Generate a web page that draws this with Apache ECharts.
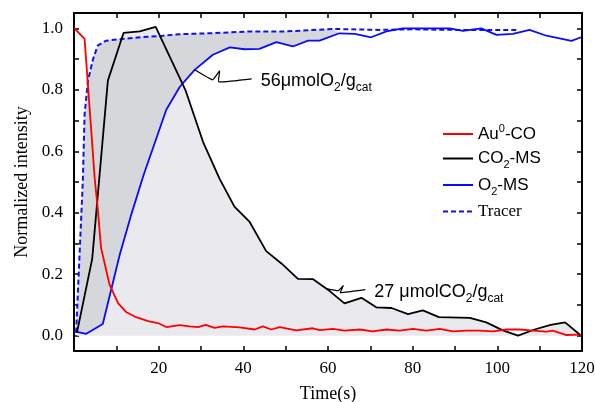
<!DOCTYPE html>
<html>
<head>
<meta charset="utf-8">
<script src="https://cdn.jsdelivr.net/npm/echarts@6/dist/echarts.min.js"></script>
<style>
  html, body { margin: 0; padding: 0; background: #ffffff; }
  #chart { width: 595px; height: 402px; }
</style>
</head>
<body>
<div id="chart"></div>
<script>
// Transient response after the gas switch: each trace has its own sampling times (s).
const auTime  = [0.1, 2.5, 4.9, 5.6, 6.4, 8.4, 10.4, 12.4, 14.7, 17.5, 19.8, 21.8, 25.0, 27.3, 29.3, 31.1, 33.2, 35.2, 39.1, 42.7, 44.6, 46.6, 48.6, 52.5, 56.4, 58.0, 61.2, 63.9, 67.5, 70.6, 73.8, 76.9, 80.1, 83.2, 86.4, 89.5, 92.7, 95.8, 99.0, 102.1, 105.3, 108.4, 111.6, 113.1, 116.3, 119.4];
const auValue = [1.0, 0.966, 0.51, 0.415, 0.285, 0.166, 0.106, 0.076, 0.06, 0.047, 0.041, 0.028, 0.034, 0.03, 0.028, 0.035, 0.025, 0.03, 0.027, 0.02, 0.03, 0.02, 0.028, 0.017, 0.024, 0.018, 0.022, 0.016, 0.02, 0.014, 0.02, 0.016, 0.022, 0.016, 0.022, 0.014, 0.016, 0.016, 0.014, 0.02, 0.02, 0.016, 0.013, 0.016, 0.002, 0.003];

const co2Time  = [0.7, 4.3, 8.0, 11.7, 15.5, 19.3, 26.3, 30.5, 34.4, 37.9, 41.5, 45.4, 49.0, 52.9, 56.4, 60.4, 63.9, 67.9, 71.4, 75.0, 78.9, 82.4, 86.2, 93.5, 97.4, 101.3, 104.9, 108.8, 112.6, 116.0, 119.6];
const co2Value = [0.01, 0.25, 0.83, 0.985, 0.99, 1.005, 0.80, 0.63, 0.51, 0.42, 0.37, 0.275, 0.235, 0.185, 0.184, 0.145, 0.105, 0.123, 0.092, 0.09, 0.07, 0.082, 0.06, 0.058, 0.043, 0.017, 0.0, 0.02, 0.035, 0.043, 0.002];

const o2Time  = [0.1, 2.9, 6.8, 10.8, 13.5, 16.5, 21.8, 25.0, 28.5, 32.8, 36.8, 40.3, 43.8, 47.8, 51.7, 55.3, 58.0, 62.7, 66.3, 70.2, 73.8, 77.7, 88.7, 91.9, 96.2, 99.8, 103.7, 107.6, 111.6, 117.5, 119.8];
const o2Value = [0.014, 0.006, 0.038, 0.263, 0.393, 0.525, 0.735, 0.81, 0.865, 0.914, 0.938, 0.932, 0.933, 0.955, 0.941, 0.96, 0.96, 0.984, 0.982, 0.971, 0.99, 1.0, 1.0, 0.992, 1.0, 0.979, 0.982, 0.995, 0.976, 0.959, 0.971];

const tracerTime  = [0.5, 2.1, 2.5, 3.3, 4.5, 5.6, 7.6, 11.6, 16.3, 21.0, 25.0, 32.0, 41.5, 50.0, 61.2, 72.0, 80.0, 90.0, 104.5];
const tracerValue = [0.01, 0.51, 0.72, 0.83, 0.9, 0.944, 0.96, 0.966, 0.972, 0.976, 0.981, 0.984, 0.99, 0.99, 0.998, 0.995, 0.997, 0.995, 0.995];

// Axis ticks and labels
const xTickValues  = [0, 10, 20, 30, 40, 50, 60, 70, 80, 90, 100, 110, 120];
const xLabelValues = [20, 40, 60, 80, 100, 120];
const yTickValues  = [0, 0.1, 0.2, 0.3, 0.4, 0.5, 0.6, 0.7, 0.8, 0.9, 1.0];
const yLabelValues = [0, 0.2, 0.4, 0.6, 0.8, 1.0];

// Integrated amounts written next to the curves
const o2Uptake = 56;
const co2Yield = 27;

// Shaded O2 uptake region ends where the O2 trace reaches the tracer
const uptakeEnd = 62.7;

const pairs = (t, v) => t.map((x, i) => [x, v[i]]);

const SANS = '"Liberation Sans", Arial, sans-serif';
const SERIF = '"Liberation Serif", "Times New Roman", serif';

const chart = echarts.init(document.getElementById('chart'), null, { renderer: 'canvas' });

const frameLine = { show: true, onZero: false, lineStyle: { color: '#000', width: 2 } };
const tickStyle = { lineStyle: { color: '#000', width: 1.5 } };

const legendNames = {
  'Au⁰-CO': '{t|Au}{sup|0}{t|-CO}',
  'CO₂-MS': '{t|CO}{sub|2}{t|-MS}',
  'O₂-MS': '{t|O}{sub|2}{t|-MS}',
  'Tracer': '{s|Tracer}'
};

const option = {
  animation: false,
  backgroundColor: '#ffffff',
  grid: { left: 74, right: 13, top: 13, bottom: 51, containLabel: false, outerBoundsMode: 'none' },
  xAxis: [
    {
      type: 'value', min: 0, max: 120, position: 'bottom',
      name: 'Time(s)', nameLocation: 'middle', nameGap: 34,
      nameTextStyle: { fontFamily: SERIF, fontSize: 18, color: '#000' },
      axisLine: frameLine,
      axisTick: Object.assign({ show: true, inside: true, length: 5, customValues: xTickValues }, tickStyle),
      axisLabel: { show: true, customValues: xLabelValues, margin: 9, fontFamily: SERIF, fontSize: 17, color: '#000' },
      splitLine: { show: false }
    },
    {
      type: 'value', min: 0, max: 120, position: 'top',
      axisLine: frameLine,
      axisTick: Object.assign({ show: true, inside: true, length: 5, customValues: xTickValues }, tickStyle),
      axisLabel: { show: false },
      splitLine: { show: false }
    }
  ],
  yAxis: [
    {
      type: 'value', min: -0.05, max: 1.05, position: 'left',
      name: 'Normalized intensity', nameLocation: 'middle', nameGap: 42,
      nameTextStyle: { fontFamily: SERIF, fontSize: 18, color: '#000' },
      axisLine: frameLine,
      axisTick: Object.assign({ show: true, inside: true, length: 5, customValues: yTickValues }, tickStyle),
      axisLabel: {
        show: true, customValues: yLabelValues, margin: 11,
        fontFamily: SERIF, fontSize: 17, color: '#000',
        formatter: v => v.toFixed(1)
      },
      splitLine: { show: false }
    },
    {
      type: 'value', min: -0.05, max: 1.05, position: 'right',
      axisLine: frameLine,
      axisTick: Object.assign({ show: true, inside: true, length: 5, customValues: yTickValues }, tickStyle),
      axisLabel: { show: false },
      splitLine: { show: false }
    }
  ],
  legend: {
    orient: 'vertical',
    left: 437, top: 118,
    itemWidth: 30, itemHeight: 14, itemGap: 4.5,
    itemStyle: { opacity: 0 },
    data: ['Au⁰-CO', 'CO₂-MS', 'O₂-MS', 'Tracer'],
    formatter: name => legendNames[name],
    textStyle: {
      color: '#000', fontFamily: SANS, fontSize: 17, lineHeight: 20,
      rich: {
        t:   { fontFamily: SANS, fontSize: 17, lineHeight: 20, color: '#000' },
        s:   { fontFamily: SERIF, fontSize: 17, lineHeight: 20, color: '#000' },
        sub: { fontFamily: SANS, fontSize: 11, lineHeight: 20, verticalAlign: 'bottom', padding: [0, 0, -2, 0], color: '#000' },
        sup: { fontFamily: SANS, fontSize: 11, lineHeight: 20, verticalAlign: 'top', padding: [-1, 0, 0, 0], color: '#000' }
      }
    }
  },
  series: [
    // CO2 desorption area under the MS trace
    {
      name: 'CO₂ area', type: 'line', z: 1, silent: true,
      data: pairs(co2Time, co2Value),
      showSymbol: false,
      lineStyle: { width: 0, opacity: 0 },
      areaStyle: { color: '#eaeaee', opacity: 1 }
    },
    // O2 uptake region between the tracer and the O2 trace
    {
      name: 'O₂ area', type: 'custom', z: 1, silent: true,
      data: [[0, 0]],
      renderItem: (params, api) => {
        const pts = [];
        tracerTime.forEach((t, i) => { if (t <= uptakeEnd) pts.push(api.coord([t, tracerValue[i]])); });
        for (let i = o2Time.length - 1; i >= 0; i--) {
          if (o2Time[i] <= uptakeEnd) pts.push(api.coord([o2Time[i], o2Value[i]]));
        }
        return { type: 'polygon', shape: { points: pts }, style: { fill: '#d6d7da' } };
      }
    },
    {
      name: 'Tracer', type: 'line', z: 3,
      data: pairs(tracerTime, tracerValue),
      showSymbol: false, symbol: 'none',
      lineStyle: { color: '#1010ee', width: 2, type: [5, 3] },
      itemStyle: { color: '#1010ee' }
    },
    {
      name: 'O₂-MS', type: 'line', z: 4,
      data: pairs(o2Time, o2Value),
      showSymbol: false, symbol: 'none',
      lineStyle: { color: '#0a0aff', width: 1.8 },
      itemStyle: { color: '#0a0aff' }
    },
    {
      name: 'CO₂-MS', type: 'line', z: 4,
      data: pairs(co2Time, co2Value),
      showSymbol: false, symbol: 'none',
      lineStyle: { color: '#000000', width: 1.8 },
      itemStyle: { color: '#000000' }
    },
    {
      name: 'Au⁰-CO', type: 'line', z: 4,
      data: pairs(auTime, auValue),
      showSymbol: false, symbol: 'none',
      lineStyle: { color: '#ff0000', width: 1.8 },
      itemStyle: { color: '#ff0000' }
    }
  ]
};

chart.setOption(option);

// Annotations: squiggly leader from a point on a curve to its label
const annoRich = {
  t:   { fontFamily: SANS, fontSize: 18, lineHeight: 22, fill: '#000' },
  sub: { fontFamily: SANS, fontSize: 12, lineHeight: 22, verticalAlign: 'bottom', padding: [0, 0, -2, 0], fill: '#000' }
};

function annotation(anchor, squiggle, text) {
  const p = chart.convertToPixel({ gridIndex: 0 }, anchor);
  const pts = squiggle.map(([dx, dy]) => [p[0] + dx, p[1] + dy]);
  const last = pts[pts.length - 1];
  return [
    {
      type: 'polyline', z: 10, silent: true,
      shape: { points: pts, smooth: 0.1 },
      style: { stroke: '#000', lineWidth: 1.2, fill: null }
    },
    {
      type: 'text', z: 10, silent: true,
      x: last[0] + 9, y: last[1] + 2,
      style: {
        text: text, rich: annoRich,
        fontFamily: SANS, fontSize: 18, fill: '#000',
        verticalAlign: 'middle', align: 'left'
      }
    }
  ];
}

// O2 label anchored on the O2 trace, CO2 label on the CO2 trace between two samples
const o2Anchor = [o2Time[8], o2Value[8]];
const k = 14, f = 0.8;
const co2Anchor = [co2Time[k] + f * (co2Time[k + 1] - co2Time[k]), co2Value[k] + f * (co2Value[k + 1] - co2Value[k])];

chart.setOption({
  graphic: [].concat(
    annotation(o2Anchor, [[0, 0], [18, 10], [25, 1], [24, 12], [57, 9]],
      '{t|' + o2Uptake + 'μmolO}{sub|2}{t|/g}{sub|cat}'),
    annotation(co2Anchor, [[0, 0], [12, 2], [17, -3], [14, 4], [39, 1]],
      '{t|' + co2Yield + ' μmolCO}{sub|2}{t|/g}{sub|cat}')
  )
});
</script>
</body>
</html>
